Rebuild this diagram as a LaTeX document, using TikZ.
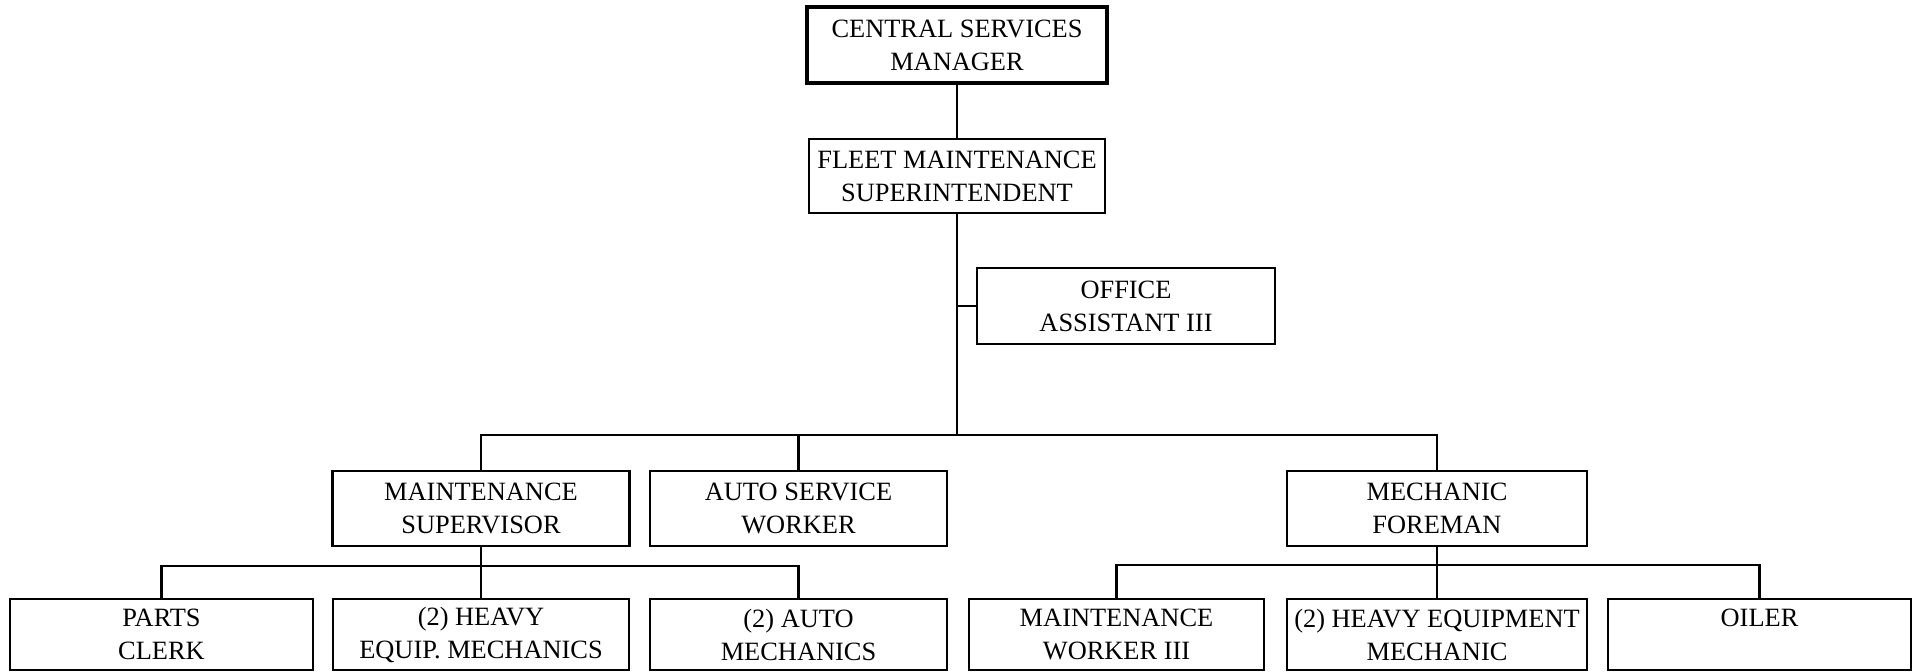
\documentclass[tikz,border=0pt]{standalone}
\usepackage{fontspec}
\setmainfont{Liberation Serif}
\begin{document}
\begin{tikzpicture}[x=0.5pt,y=-0.5pt,
  box/.style={draw, line width=1.35pt, inner sep=0pt, align=center,
    font=\fontsize{13.2}{16.5}\selectfont, anchor=center},
  conn/.style={line width=1.35pt}]
\useasboundingbox (0,0) rectangle (1915,672);
% level 1
\node[box, line width=2pt, minimum width=150pt, minimum height=38pt] (central) at (957,45) {CENTRAL SERVICES\\MANAGER};
\node[box, minimum width=148pt, minimum height=37pt] (fleet) at (957,176) {FLEET MAINTENANCE\\SUPERINTENDENT};
\node[box, minimum width=149pt, minimum height=38pt] (office) at (1126,306) {OFFICE\\ASSISTANT III};
% level 3
\node[box, minimum width=148.5pt, minimum height=37.5pt] (maint) at (481,508.5) {MAINTENANCE\\SUPERVISOR};
\node[box, minimum width=148.5pt, minimum height=37.5pt] (autosvc) at (798.5,508.5) {AUTO SERVICE\\WORKER};
\node[box, minimum width=150pt, minimum height=37.5pt] (mechf) at (1437,508.5) {MECHANIC\\FOREMAN};
% level 4
\node[box, minimum width=151.5pt, minimum height=35.5pt] (parts) at (161.5,634.5) {PARTS\\CLERK};
\node[box, minimum width=148pt, minimum height=35.5pt] (heavy) at (481,634.5) {(2) HEAVY\\EQUIP. MECHANICS};
\node[box, minimum width=148.5pt, minimum height=35.5pt] (amech) at (798.5,634.5) {(2) AUTO\\MECHANICS};
\node[box, minimum width=147.5pt, minimum height=35.5pt] (mw) at (1116.5,634.5) {MAINTENANCE\\WORKER III};
\node[box, minimum width=150pt, minimum height=35.5pt] (hem) at (1437,634.5) {(2) HEAVY EQUIPMENT\\MECHANIC};
\node[box, minimum width=151.5pt, minimum height=35.5pt] (oiler) at (1759.5,634.5) {OILER\\\phantom{M}};
% bus coordinates
\coordinate (b1) at (957,435);
\coordinate (b2) at (481,566);
\coordinate (b3) at (1437,565);
% connectors
\draw[conn] (central.south) -- (fleet.north);
\draw[conn] (fleet.south) -- (fleet.south |- b1);
\draw[conn] (office.west) -- (office.west -| fleet.south);
\draw[conn] (maint.north) |- (b1) -| (mechf.north);
\draw[conn] (autosvc.north) -- (autosvc.north |- b1);
\draw[conn] (maint.south) -- (maint.south |- b2);
\draw[conn] (parts.north) |- (b2) -| (amech.north);
\draw[conn] (heavy.north) -- (heavy.north |- b2);
\draw[conn] (mechf.south) -- (mechf.south |- hem.north);
\draw[conn] (mw.north) |- (b3) -| (oiler.north);
\end{tikzpicture}
\end{document}
